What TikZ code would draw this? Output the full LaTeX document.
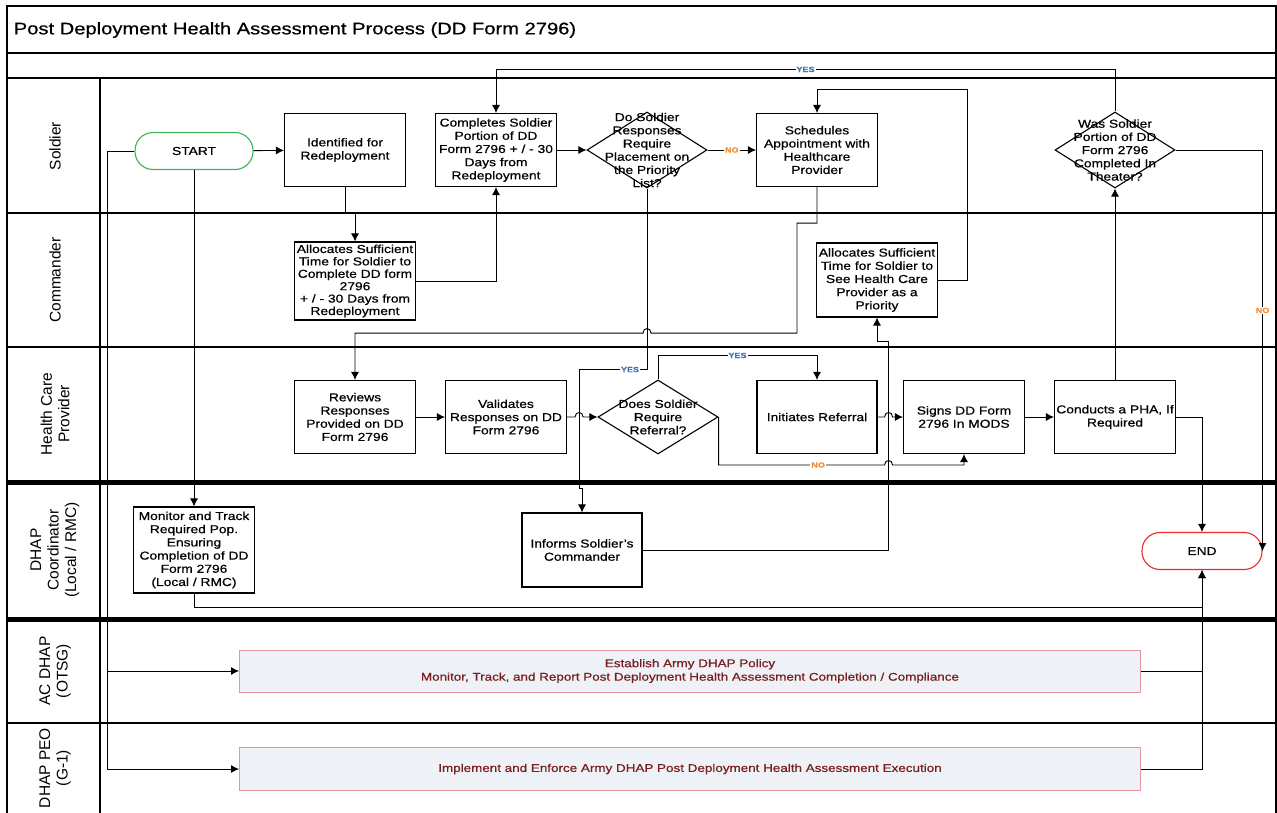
\documentclass[tikz,border=0pt]{standalone}
\usepackage{fontspec}
\setmainfont{Liberation Sans}[FakeStretch=1.2, FakeBold=0.6]
\newfontfamily\lanefont{Liberation Sans}
\usetikzlibrary{arrows.meta,shapes.geometric}
\definecolor{startgreen}{RGB}{60,180,90}
\definecolor{endred}{RGB}{240,40,40}
\definecolor{yesblue}{RGB}{55,120,195}
\definecolor{noorange}{RGB}{245,140,50}
\definecolor{policyfill}{RGB}{238,242,247}
\definecolor{policyline}{RGB}{230,150,150}
\definecolor{policytext}{RGB}{120,30,30}
\begin{document}
\begin{tikzpicture}[x=1pt, y=-1pt, line width=0.9pt, >={Latex[length=8pt,width=8pt]},
  stepbox/.style={draw, line width=1.1pt, fill=white, minimum width=121pt, minimum height=73pt,
    inner sep=1pt, align=center, font=\fontsize{11.5}{13.2}\selectfont},
  terminal/.style={draw, line width=1.1pt, fill=white, rounded corners=18pt, minimum width=118pt,
    minimum height=37pt, font=\fontsize{11.5}{13.2}\selectfont},
  decision/.style={diamond, draw, line width=1.1pt, fill=white, minimum width=120pt,
    minimum height=76pt, inner sep=0pt},
  qtext/.style={align=center, inner sep=0pt, font=\fontsize{11.5}{13.2}\selectfont},
  policy/.style={draw=policyline, fill=policyfill, line width=1pt, minimum width=901pt,
    minimum height=42pt, align=center, text=policytext, font=\fontsize{11.2}{13.5}\selectfont},
  lane/.style={rotate=90, align=center, font=\lanefont\fontsize{15.5}{17.5}\selectfont},
  yeslabel/.style={fill=white, inner sep=1pt, text=yesblue, font=\bfseries\fontsize{7.5}{8}\selectfont},
  nolabel/.style={fill=white, inner sep=1pt, text=noorange, font=\bfseries\fontsize{7.5}{8}\selectfont}]
\useasboundingbox (0,0) rectangle (1277,812);

% swimlanes
\draw[line width=1.2pt] (7,6) rectangle (1276,830);
\foreach \y in {53,78,213,347,723}
  \draw[line width=1.2pt] (7,\y) -- (1276,\y);
\draw[line width=5pt] (7,482) -- (1276,482);
\draw[line width=5pt] (7,619) -- (1276,619);
\draw[line width=1.2pt] (100,78) -- (100,830);

\node[anchor=west, font=\fontsize{16.8}{20}\selectfont] (title) at (10,30) {Post Deployment Health Assessment Process (DD Form 2796)};

\node[lane] (soldierlane) at (55,146) {Soldier};
\node[lane] (cmdlane) at (55,280) {Commander};
\node[lane] (hcplane) at (55,414) {Health Care\\Provider};
\node[lane] (dhaplane) at (55,550) {DHAP\\Coordinator\\(Local / RMC)};
\node[lane] (aclane) at (55,671) {AC DHAP\\(OTSG)};
\node[lane] (peolane) at (55,768) {DHAP PEO\\(G-1)};

% soldier
\node[terminal, draw=startgreen] (start) at (194,151) {START};
\node[stepbox] (ident) at (345,150) {Identified for\\Redeployment};
\node[stepbox] (compl) at (496,150) {Completes Soldier\\Portion of DD\\Form 2796 + / - 30\\Days from\\Redeployment};
\node[decision, label={[qtext]center:{Do Soldier\\Responses\\Require\\Placement on\\the Priority\\List?}}] (q1) at (647,150) {};
\node[stepbox] (sched) at (817,150) {Schedules\\Appointment with\\Healthcare\\Provider};
\node[decision, label={[qtext]center:{Was Soldier\\Portion of DD\\Form 2796\\Completed In\\Theater?}}] (q2) at (1115,150) {};

% commander
\node[stepbox, minimum height=78pt, font=\fontsize{11.5}{12.4}\selectfont] (alloc1) at (355,281) {Allocates Sufficient\\Time for Soldier to\\Complete DD form\\2796\\+ / - 30 Days from\\Redeployment};
\node[stepbox, minimum height=74pt] (alloc2) at (877,280) {Allocates Sufficient\\Time for Soldier to\\See Health Care\\Provider as a\\Priority};

% health care provider
\node[stepbox] (reviews) at (355,417) {Reviews\\Responses\\Provided on DD\\Form 2796};
\node[stepbox] (val) at (506,417) {Validates\\Responses on DD\\Form 2796};
\node[decision, minimum height=74pt, label={[qtext]center:{Does Soldier\\Require\\Referral?}}] (q3) at (658,417) {};
\node[stepbox, minimum width=120pt] (init) at (817,417) {Initiates Referral};
\node[stepbox] (signs) at (964,417) {Signs DD Form\\2796 In MODS};
\node[stepbox] (pha) at (1115,417) {Conducts a PHA, If\\Required};

% dhap coordinator
\node[stepbox, minimum height=86pt] (monitor) at (194,550) {Monitor and Track\\Required Pop.\\Ensuring\\Completion of DD\\Form 2796\\(Local / RMC)};
\node[stepbox, minimum width=120pt, minimum height=74pt] (informs) at (582,550) {Informs Soldier's\\Commander};
\node[terminal, draw=endred, minimum width=120pt] (endnode) at (1202,551) {END};

% policy
\node[policy] (acbox) at (690,671) {Establish Army DHAP Policy\\Monitor, Track, and Report Post Deployment Health Assessment Completion / Compliance};
\node[policy, minimum height=43pt] (peobox) at (690,769) {Implement and Enforce Army DHAP Post Deployment Health Assessment Execution};

% connectors
\draw[->] (start) -- (ident);
\draw[->] (ident.south) -- ++(0,26) -| (alloc1.north);
\draw[->] (alloc1.east) -| (compl.south);
\draw[->] (compl) -- (q1);
\draw[->] (q1) -- node[nolabel]{NO} (sched);
\draw[->] (q2.north) -- ++(0,-42) -| node[yeslabel, pos=0.25]{YES} (compl.north);
\draw[->] (q2.east) -| node[nolabel, pos=0.7]{NO} (endnode.east);
\draw[->] (alloc2.east) -- ++(29,0) -- ++(0,-191) -| (sched.north);
\draw[->] (sched.south) -- ++(0,36) -- ++(-20,0) -- ++(0,110) -- ++(-146,0)
  .. controls +(0,-6) and +(0,-6) .. ++(-8,0) -| (reviews.north);
\draw[->] (q1.south) -- ++(0,181) -- node[yeslabel, pos=0.25]{YES} ++(-68,0) -- ++(0,119) -| (informs.north);

\draw[->] (reviews) -- (val);
\draw[->] (val.east) -- ++(8,0) .. controls +(0,-6) and +(0,-6) .. ++(8,0) -- (q3.west);
\draw[->] (q3.north) -- ++(0,-24) -| node[yeslabel, pos=0.25]{YES} (init.north);
\draw[->] (q3.east) -- ++(0,48) -- node[nolabel, pos=0.6]{NO} ++(166,0)
  .. controls +(0,-6) and +(0,-6) .. ++(8,0) -| (signs.south);
\draw[->] (init.east) -- ++(7,0) .. controls +(0,-6) and +(0,-6) .. ++(8,0) -- (signs.west);
\draw[->] (signs) -- (pha);
\draw[->] (pha) -- (q2);
\draw[->] (pha.east) -| (endnode.north);

\draw[->] (start.south) -- (start.south |- monitor.north);
\draw[->] (informs.east) -- ++(246,0) -- ++(0,-209) -| (alloc2.south);
\draw[->] (monitor.south) -- ++(0,14) -| (endnode.south);

\draw[->] (start.west) -- ++(-27,0) |- (peobox.west);
\draw[->] ([xshift=-27pt]start.west |- acbox.west) -- (acbox.west);
\draw[->] (peobox.east) -| (endnode.south);
\draw (acbox.east) -- (acbox.east -| endnode.south);

\end{tikzpicture}
\end{document}
